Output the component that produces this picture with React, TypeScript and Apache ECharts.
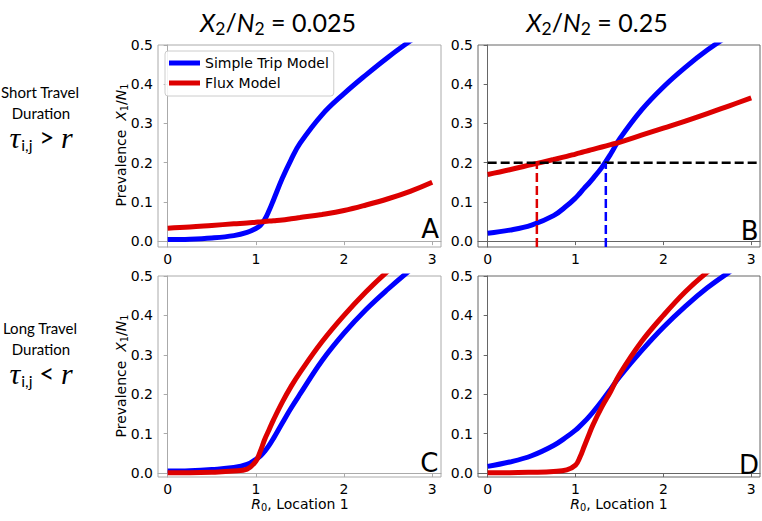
import React, { useEffect, useRef } from 'react';
import * as echarts from 'echarts';

// ---- data ----
const R0 = [0, 0.25, 0.5, 0.75, 0.9, 1.0, 1.05, 1.1, 1.15, 1.2, 1.3, 1.4, 1.5, 1.75, 2.0, 2.25, 2.5, 2.75, 3.0];

// Panel A: X2/N2 = 0.025, short travel
const simpleA = [0.004, 0.005, 0.008, 0.014, 0.022, 0.032, 0.04, 0.055, 0.078, 0.105, 0.16, 0.208, 0.249, 0.322, 0.376, 0.424, 0.469, 0.51, 0.548];
const fluxA = [0.033, 0.036, 0.04, 0.044, 0.046, 0.048, 0.049, 0.05, 0.051, 0.052, 0.054, 0.057, 0.06, 0.068, 0.078, 0.092, 0.108, 0.127, 0.15];
// Panel B: X2/N2 = 0.25, short travel
const simpleB = [0.02, 0.028, 0.041, 0.065, 0.09, 0.11, 0.122, 0.135, 0.147, 0.16, 0.188, 0.222, 0.26, 0.334, 0.393, 0.443, 0.487, 0.525, 0.56];
const fluxB = [0.17, 0.182, 0.195, 0.208, 0.216, 0.222, 0.225, 0.228, 0.231, 0.234, 0.24, 0.246, 0.252, 0.27, 0.288, 0.306, 0.325, 0.345, 0.365];
// Panel C: X2/N2 = 0.025, long travel
const simpleC = [0.005, 0.006, 0.009, 0.014, 0.022, 0.035, 0.043, 0.055, 0.07, 0.088, 0.127, 0.165, 0.2, 0.285, 0.355, 0.415, 0.467, 0.515, 0.56];
const fluxC = [0.001, 0.001, 0.002, 0.005, 0.01, 0.03, 0.055, 0.085, 0.11, 0.135, 0.18, 0.22, 0.255, 0.333, 0.4, 0.46, 0.513, 0.56, 0.6];
// Panel D: X2/N2 = 0.25, long travel
const simpleD = [0.017, 0.028, 0.044, 0.07, 0.092, 0.109, 0.119, 0.13, 0.142, 0.155, 0.183, 0.213, 0.244, 0.31, 0.37, 0.423, 0.47, 0.51, 0.545];
const fluxD = [0.001, 0.001, 0.002, 0.004, 0.008, 0.02, 0.04, 0.068, 0.096, 0.123, 0.168, 0.207, 0.25, 0.333, 0.4, 0.46, 0.51, 0.553, 0.59];

const threshold = 0.2;
const fluxCrossB = 0.56;
const simpleCrossB = 1.345;

const xTicks = [0, 1, 2, 3];
const yTicks = [0, 0.1, 0.2, 0.3, 0.4, 0.5];
const panelLetters = ['A', 'B', 'C', 'D'];
const seriesNames = ['Simple Trip Model', 'Flux Model'];
const colTitles = ['0.025', '0.25'];

const BLUE = '#0000ff';
const RED = '#dd0000';

const grids = [
  { left: 158, top: 45, width: 283, height: 202, ymin: -0.015, border: '#aaaaaa' },
  { left: 478, top: 45, width: 282, height: 202, ymin: -0.015, border: '#666666' },
  { left: 158, top: 276, width: 283, height: 201, ymin: -0.01, border: '#aaaaaa' },
  { left: 478, top: 276, width: 282, height: 201, ymin: -0.01, border: '#666666' },
];

const simpleAll = [simpleA, simpleB, simpleC, simpleD];
const fluxAll = [fluxA, fluxB, fluxC, fluxD];

const TICK_FONT = 'DejaVu Sans';

function rich(size: number, family: string, italicFamily?: string) {
  return {
    n: { fontSize: size, fontFamily: family, fill: '#000' },
    i: { fontSize: size, fontFamily: italicFamily || family, fontStyle: 'italic', fill: '#000' },
    s: { fontSize: size * 0.7, fontFamily: family, fill: '#000', padding: [size * 0.55, 0, 0, 0] },
  };
}

export default function App() {
  const ref = useRef<HTMLDivElement>(null);
  useEffect(() => {
    if (!ref.current) return;
    const chart = echarts.init(ref.current, undefined, { renderer: 'svg' });

    const xAxis = grids.map((g, k) => ({
      type: 'value',
      gridIndex: k,
      min: -0.11,
      max: 3.1,
      axisLine: { show: true, lineStyle: { color: g.border, width: 1 } },
      axisTick: { show: true, customValues: xTicks, length: 4, lineStyle: { color: g.border } },
      axisLabel: {
        customValues: xTicks,
        fontSize: 14,
        fontFamily: TICK_FONT,
        color: '#000',
        margin: 5,
      },
      splitLine: { show: false },
    }));
    const yAxis = grids.map((g, k) => ({
      type: 'value',
      gridIndex: k,
      min: g.ymin,
      max: 0.5,
      axisLine: { show: true, lineStyle: { color: g.border, width: 1 } },
      axisTick: { show: true, customValues: yTicks, length: 4, lineStyle: { color: g.border } },
      axisLabel: {
        customValues: yTicks,
        fontSize: 14,
        fontFamily: TICK_FONT,
        color: '#000',
        margin: 5,
        formatter: (v: number) => v.toFixed(1),
      },
      splitLine: { show: false },
    }));

    const series: any[] = [];
    grids.forEach((g, k) => {
      series.push({
        type: 'line',
        name: seriesNames[0],
        xAxisIndex: k,
        yAxisIndex: k,
        data: R0.map((x, i) => [x, simpleAll[k][i]]),
        smooth: 0.4,
        symbol: 'none',
        clip: true,
        lineStyle: { color: BLUE, width: 5 },
        itemStyle: { color: BLUE },
        z: 2,
      });
      series.push({
        type: 'line',
        name: seriesNames[1],
        xAxisIndex: k,
        yAxisIndex: k,
        data: R0.map((x, i) => [x, fluxAll[k][i]]),
        smooth: 0.4,
        symbol: 'none',
        clip: true,
        lineStyle: { color: RED, width: 5 },
        itemStyle: { color: RED },
        z: 3,
      });
    });
    // dashed guides in panel B
    series.push({
      type: 'line', name: 'threshold', xAxisIndex: 1, yAxisIndex: 1, silent: true,
      data: [[0, threshold], [3.1, threshold]], symbol: 'none', clip: true,
      lineStyle: { color: '#000', width: 2.5, type: [9, 4] }, z: 4,
    });
    series.push({
      type: 'line', name: 'fluxCross', xAxisIndex: 1, yAxisIndex: 1, silent: true,
      data: [[fluxCrossB, grids[1].ymin], [fluxCrossB, threshold]], symbol: 'none', clip: true,
      lineStyle: { color: RED, width: 2.5, type: [9, 4] }, z: 4,
    });
    series.push({
      type: 'line', name: 'simpleCross', xAxisIndex: 1, yAxisIndex: 1, silent: true,
      data: [[simpleCrossB, grids[1].ymin], [simpleCrossB, threshold]], symbol: 'none', clip: true,
      lineStyle: { color: BLUE, width: 2.5, type: [9, 4] }, z: 4,
    });

    const graphics: any[] = [];
    // column titles
    const titleX = [278, 597];
    colTitles.forEach((t, k) => {
      graphics.push({
        type: 'text', x: titleX[k], y: 22,
        style: {
          text: `{i|X}{s|2}{n|/}{i|N}{s|2}{n| = ${t}}`,
          rich: rich(25, 'Lato'),
          align: 'center', verticalAlign: 'middle',
        },
      });
    });
    // row labels
    const rows = [
      { l1: 'Short Travel', y: 92, sym: '>' },
      { l1: 'Long Travel', y: 328, sym: '<' },
    ];
    rows.forEach((r) => {
      graphics.push({
        type: 'text', x: 40, y: r.y,
        style: { text: r.l1, fontSize: 15, fontFamily: 'Lato', fill: '#000', align: 'center', verticalAlign: 'middle' },
      });
      graphics.push({
        type: 'text', x: 41, y: r.y + 21,
        style: { text: 'Duration', fontSize: 15, fontFamily: 'Lato', fill: '#000', align: 'center', verticalAlign: 'middle' },
      });
      graphics.push({
        type: 'text', x: 41, y: r.y + 45,
        style: {
          text: `{t|τ}{s|i,j}{n| ${r.sym} }{t|r}`,
          rich: {
            t: { fontSize: 30, fontFamily: 'Liberation Serif', fontStyle: 'italic', fill: '#000' },
            n: { fontSize: 26, fontFamily: 'Lato', fill: '#000' },
            s: { fontSize: 16, fontFamily: 'Lato', fill: '#000', padding: [14, 0, 0, 1] },
          },
          align: 'center', verticalAlign: 'middle',
        },
      });
    });
    // y axis labels
    [145, 376].forEach((yc) => {
      graphics.push({
        type: 'text', x: 121, y: yc, rotation: Math.PI / 2,
        style: {
          text: '{n|Prevalence  }{i|X}{s|1}{n|/}{i|N}{s|1}',
          rich: rich(14, TICK_FONT),
          align: 'center', verticalAlign: 'middle',
        },
      });
    });
    // x axis names
    [300, 619].forEach((xc) => {
      graphics.push({
        type: 'text', x: xc, y: 504,
        style: {
          text: '{i|R}{s|0}{n|, Location 1}',
          rich: rich(14, TICK_FONT),
          align: 'center', verticalAlign: 'middle',
        },
      });
    });
    // panel letters
    const letterPos = [
      [439, 229], [758.5, 231], [438.5, 463], [759, 465],
    ];
    panelLetters.forEach((L, k) => {
      graphics.push({
        type: 'text', x: letterPos[k][0], y: letterPos[k][1],
        style: { text: L, fontSize: 26, fontFamily: TICK_FONT, fill: '#000', align: 'right', verticalAlign: 'middle' },
        z: 10,
      });
    });

    chart.setOption({
      animation: false,
      backgroundColor: '#ffffff',
      grid: grids.map((g) => ({
        left: g.left, top: g.top, width: g.width, height: g.height,
        show: true, borderColor: g.border, borderWidth: 1, backgroundColor: 'transparent',
        containLabel: false,
      })),
      xAxis,
      yAxis,
      legend: {
        data: seriesNames,
        orient: 'vertical',
        left: 165,
        top: 51,
        icon: 'rect',
        itemWidth: 31,
        itemHeight: 5,
        itemGap: 6,
        padding: [5, 5, 6, 4],
        textStyle: { fontSize: 14, fontFamily: TICK_FONT, color: '#000' },
        backgroundColor: 'rgba(255,255,255,0.85)',
        borderColor: '#cccccc',
        borderWidth: 1,
        borderRadius: 3,
        selectedMode: false,
      },
      series,
      graphic: graphics,
    });
    return () => chart.dispose();
  }, []);
  return <div ref={ref} style={{ position: 'fixed', left: 0, top: 0, width: 762, height: 521 }} />;
}
